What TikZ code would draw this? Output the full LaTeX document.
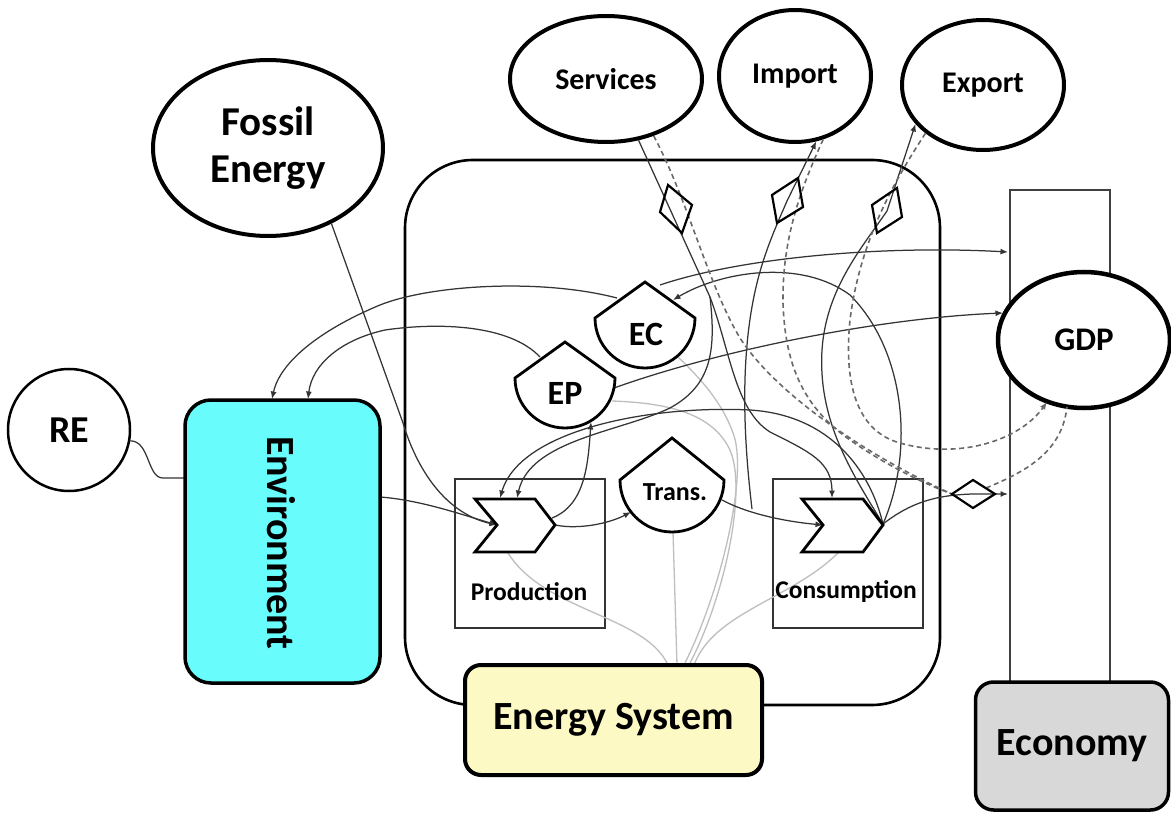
\documentclass[tikz,border=0pt]{standalone}
\usepackage{fontspec}
\setmainfont{Carlito}
\usetikzlibrary{arrows.meta,shapes.geometric}
\definecolor{envcyan}{RGB}{104,252,252}
\definecolor{esyellow}{RGB}{252,249,196}
\definecolor{ecogray}{RGB}{216,216,216}
\definecolor{flowgray}{RGB}{52,52,52}
\definecolor{dashgray}{RGB}{105,105,105}
\definecolor{hubgray}{RGB}{190,190,190}
\tikzset{
  flow/.style={draw=flowgray, line width=1.25pt},
  flowarrow/.style={flow, -{Latex[length=7.5pt,width=6pt]}},
  trade/.style={draw=dashgray, line width=1.6pt, dash pattern=on 5pt off 3.5pt},
  tradearrow/.style={trade, -{Latex[length=7.5pt,width=6pt]}},
  hub/.style={draw=hubgray, line width=1.3pt},
  oval/.style={ellipse, draw=black, line width=4pt, fill=white, inner sep=0pt,
    font=\bfseries\fontsize{30}{32}\selectfont},
  dropline/.style={draw=black, line width=2.8pt, fill=white},
  chev/.style={draw=black, line width=2.8pt, fill=white},
  marker/.style={draw=black, line width=2.2pt},
  stagebox/.style={draw=black!80, line width=2pt, inner sep=0pt,
    minimum width=150pt, minimum height=149pt},
  stagelabel/.style={font=\bfseries\fontsize{25.5}{27}\selectfont},
  droplabel/.style={font=\bfseries\fontsize{34}{36}\selectfont},
  bigbox/.style={draw=black, line width=3.5pt, inner sep=0pt},
  biglabel/.style={font=\bfseries\fontsize{40}{42}\selectfont}
}
\begin{document}
\begin{tikzpicture}[x=1pt,y=-1pt]
\useasboundingbox (0,0) rectangle (1171,813);
\fill[white] (0,0) rectangle (1171,813);

% frames and boxes
\node (frame) [draw=black, line width=2.6pt, rounded corners=68pt, minimum width=535pt,
  minimum height=545pt, inner sep=0pt] at (672.5,432.5) {};
\node (column) [draw=black!75, line width=2pt, minimum width=100pt, minimum height=500pt,
  inner sep=0pt] at (1060,440) {};
\node (prodbox) [stagebox] at (530,553.5) {};
\node (consbox) [stagebox] at (847.5,553.5) {};

% outer nodes
\node (services) [oval, minimum width=192pt, minimum height=126pt] at (606,79) {Services};
\node (import) [oval, minimum width=152pt, minimum height=132pt] at (795,76) {Import};
\node (export) [oval, minimum width=162pt, minimum height=130pt] at (983,85) {Export};
\node (fossil) [oval, minimum width=230pt, minimum height=176pt, align=center,
  font=\bfseries\fontsize{41}{47}\selectfont] at (268,148) {Fossil\\Energy};
\node (re) [circle, draw=black, line width=2.5pt, fill=white, minimum size=122pt, inner sep=0pt,
  font=\bfseries\fontsize{38}{40}\selectfont] at (69,430) {RE};
\node (gdp) [oval, line width=4.5pt, minimum width=172pt, minimum height=136pt,
  font=\bfseries\fontsize{33}{35}\selectfont] at (1084,340) {GDP};

% key points on the drawn shapes
\coordinate (pnotch) at (497,525);
\coordinate (ptip) at (555,525);
\coordinate (ptopA) at (500,498);
\coordinate (ptopB) at (517,498);
\coordinate (cnotch) at (823,525);
\coordinate (ctip) at (883,524);
\coordinate (ctop) at (832,498);
\coordinate (split) at (710,297);
\coordinate (tradeknot) at (973,494);

% light links from the energy system label
\draw[hub] (668,665) .. controls (645,615) and (545,612) .. (508,553);
\draw[hub] (677,665) -- (673,532);
\draw[hub] (684,665) .. controls (724,585) and (748,470) .. (733,433)
  .. controls (722,402) and (700,378) .. (678,357);
\draw[hub] (689,665) .. controls (726,595) and (748,485) .. (729,448)
  .. controls (712,415) and (672,403) .. (612,401);
\draw[hub] (694,665) .. controls (714,612) and (790,600) .. (838,553);

% renewable energy into the environment
\draw[flow] (re.-10) .. controls (150,441) and (147,478) .. (163,478) -- (185,478);

% environment and fossil energy into production
\draw[flowarrow] (380,497) .. controls (420,500) and (460,514) .. (pnotch);
\draw[flowarrow] (fossil.-50) -- (403,423) .. controls (414,460) and (440,512) .. (pnotch);

% emissions back to the environment
\draw[flowarrow] (617,298) .. controls (540,278) and (430,285) .. (380,305)
  .. controls (320,330) and (280,362) .. (272,399);
\draw[flowarrow] (540,357) .. controls (510,325) and (440,322) .. (385,330)
  .. controls (340,340) and (312,365) .. (308,399);

% costs to the economy
\draw[flowarrow] (660,285) .. controls (740,258) and (880,245) .. (1008,252);
\draw[flowarrow] (614,388) .. controls (720,350) and (880,318) .. (1003,313);

% consumption back to EC
\draw[flowarrow] (ctip) .. controls (915,450) and (905,350) .. (850,295)
  .. controls (800,258) and (720,272) .. (673,300);

% production chain
\draw[flowarrow] (552,518) .. controls (585,505) and (588,465) .. (591,422);
\draw[flowarrow] (ptip) .. controls (580,530) and (610,523) .. (631,512);
\draw[flowarrow] (722,500) .. controls (750,515) and (790,522) .. (cnotch);

% services
\draw[flowarrow] (services.-62) -- (split) .. controls (730,350) and (735,410) .. (770,432)
  .. controls (810,452) and (832,462) .. (ctop);
\draw[flowarrow] (split) .. controls (716,350) and (712,385) .. (670,408)
  .. controls (620,432) and (530,440) .. (ptopB);
\draw[flowarrow] (ctip) .. controls (870,470) and (830,415) .. (750,410)
  .. controls (650,405) and (520,430) .. (ptopA);

% import and export
\draw[flowarrow] (752,509) .. controls (745,450) and (738,360) .. (757,283)
  .. controls (765,250) and (778,222) .. (787,201) -- (import.-72);
\draw[flowarrow] (ctip) .. controls (850,470) and (818,420) .. (822,350)
  .. controls (826,290) and (860,250) .. (887,211) -- (export.-150);

% consumption to the economy
\draw[flowarrow] (ctip) .. controls (910,503) and (935,495) .. (tradeknot) -- (1008,494);

% trade balance (dashed)
\draw[trade] (services.-50) .. controls (688,200) and (708,285) .. (740,338)
  .. controls (780,400) and (880,462) .. (952,494);
\draw[trade] (import.-66) .. controls (800,190) and (782,240) .. (783,303)
  .. controls (785,360) and (800,405) .. (850,440) .. controls (890,468) and (930,486) .. (952,494);
\draw[tradearrow] (export.-140) .. controls (895,180) and (860,240) .. (850,320)
  .. controls (843,390) and (860,432) .. (900,443) .. controls (960,460) and (1020,440) .. (1047,402);
\draw[trade] (986,488) .. controls (1030,470) and (1062,450) .. (1067,407);

% diamond markers
\draw[marker] (660,212) -- (668,185) -- (692,205) -- (682,233) -- cycle;
\draw[marker] (772,195) -- (798,178) -- (803,207) -- (777,223) -- cycle;
\draw[marker] (872,205) -- (897,188) -- (902,217) -- (877,233) -- cycle;
\draw[marker] (952,494) -- (973,480) -- (995,494) -- (973,508) -- cycle;

% EC, EP and transmission
\draw[dropline] (595,318) -- (645,282) -- (695,318) arc[start angle=0, end angle=-180, radius=50pt] -- cycle;
\node (ec) [droplabel] at (646,334) {EC};
\draw[dropline] (515,378) -- (565,342) -- (615,378) arc[start angle=0, end angle=-180, radius=50pt] -- cycle;
\node (ep) [droplabel] at (565,393) {EP};
\draw[dropline] (620,480) -- (672,438) -- (724,480) arc[start angle=0, end angle=-180, radius=52pt] -- cycle;
\node (trans) [font=\bfseries\fontsize{26}{28}\selectfont] at (675,492) {Trans.};

% production and consumption stages
\draw[chev] (475,499) -- (535,499) -- (ptip) -- (535,552) -- (475,552) -- (pnotch) -- cycle;
\draw[chev] (802,499) -- (863,499) -- (883,525) -- (863,552) -- (802,552) -- (cnotch) -- cycle;
\node (prodlabel) [stagelabel] at (529,592) {Production};
\node (conslabel) [stagelabel] at (846,592) {Consumption};

% large labelled boxes
\node (env) [bigbox, fill=envcyan, rounded corners=26pt, minimum width=195pt, minimum height=283pt]
  at (282.5,541.5) {};
\node (envlabel) [biglabel, rotate=-90] at (281,543) {Environment};
\node (esys) [bigbox, line width=4pt, fill=esyellow, rounded corners=16pt, minimum width=297pt,
  minimum height=110pt, biglabel] at (613.5,720) {Energy System};
\node (economy) [bigbox, fill=ecogray, rounded corners=18pt, minimum width=193pt,
  minimum height=128pt, biglabel] at (1072,746) {Economy};
\end{tikzpicture}
\end{document}
